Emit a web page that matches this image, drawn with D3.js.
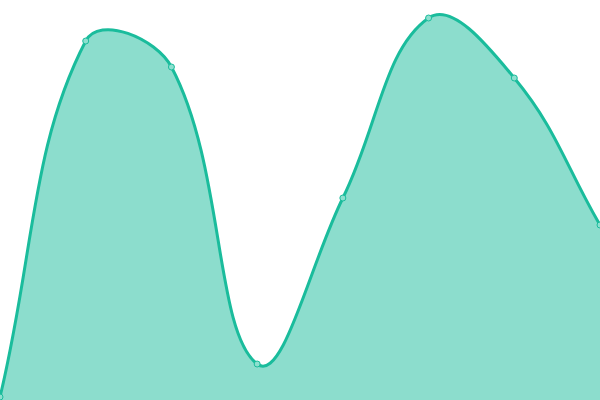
<!DOCTYPE html>
<html>
<head>
<meta charset="utf-8">
<script src="https://cdn.jsdelivr.net/npm/d3@7"></script>
<style>
  html, body { margin: 0; padding: 0; background: #fff; overflow: hidden; }
  svg { display: block; }
</style>
</head>
<body>
<svg id="chart" width="600" height="400"></svg>
<script>
// Data
const categories = ["1", "2", "3", "4", "5", "6", "7", "8"];
const values = [0.75, 89.75, 83.25, 9, 50.5, 95.5, 80.5, 43.75];
const yDomain = [0, 100];

const width = 600, height = 400;
const lineColor = "#1abc9c";
const fillColor = "rgba(26,188,156,0.5)";

const svg = d3.select("#chart");

const x = d3.scalePoint().domain(categories).range([0, width]);
const y = d3.scaleLinear().domain(yDomain).range([height, 0]);

// Chart.js-style monotone-agnostic spline (tension 0.4) as a custom d3 curve
function splineCurve(tension) {
  function Curve(context) { this._context = context; }
  Curve.prototype = {
    areaStart() { this._line = 0; },
    areaEnd() { this._line = NaN; },
    lineStart() { this._pts = []; },
    lineEnd() {
      const p = this._pts, n = p.length, ctx = this._context;
      if (!n) return;
      const cps = p.map((cur, i) => {
        const prev = p[i - 1] || cur, next = p[i + 1] || cur;
        const d01 = Math.hypot(cur[0] - prev[0], cur[1] - prev[1]);
        const d12 = Math.hypot(next[0] - cur[0], next[1] - cur[1]);
        let s01 = d01 / (d01 + d12), s12 = d12 / (d01 + d12);
        if (isNaN(s01)) s01 = 0;
        if (isNaN(s12)) s12 = 0;
        const fa = tension * s01, fb = tension * s12;
        const clampX = v => Math.max(0, Math.min(width, v));
        const clampY = v => Math.max(0, Math.min(height, v));
        return {
          prev: [clampX(cur[0] - fa * (next[0] - prev[0])), clampY(cur[1] - fa * (next[1] - prev[1]))],
          next: [clampX(cur[0] + fb * (next[0] - prev[0])), clampY(cur[1] + fb * (next[1] - prev[1]))]
        };
      });
      if (this._line) ctx.lineTo(p[0][0], p[0][1]); else ctx.moveTo(p[0][0], p[0][1]);
      for (let i = 1; i < n; i++) {
        const a = cps[i - 1].next, b = cps[i].prev;
        ctx.bezierCurveTo(a[0], a[1], b[0], b[1], p[i][0], p[i][1]);
      }
      if (this._line || (this._line !== 0 && n === 1)) ctx.closePath();
      this._line = 1 - this._line;
    },
    point(px, py) { this._pts.push([+px, +py]); }
  };
  return ctx => new Curve(ctx);
}
const curve = splineCurve(0.4);

const data = categories.map((c, i) => ({ c, v: values[i] }));

const area = d3.area()
  .x(d => x(d.c))
  .y0(y(yDomain[0]))
  .y1(d => y(d.v))
  .curve(curve);

const line = d3.line()
  .x(d => x(d.c))
  .y(d => y(d.v))
  .curve(curve);

svg.append("path")
  .datum(data)
  .attr("d", area)
  .attr("fill", fillColor)
  .attr("stroke", "none");

svg.append("path")
  .datum(data)
  .attr("d", line)
  .attr("fill", "none")
  .attr("stroke", lineColor)
  .attr("stroke-width", 3);

svg.selectAll("circle.pt")
  .data(data)
  .join("circle")
  .attr("class", "pt")
  .attr("cx", d => x(d.c))
  .attr("cy", d => y(d.v))
  .attr("r", 3)
  .attr("fill", "#8de0cf")
  .attr("stroke", lineColor)
  .attr("stroke-width", 1);
</script>
</body>
</html>
